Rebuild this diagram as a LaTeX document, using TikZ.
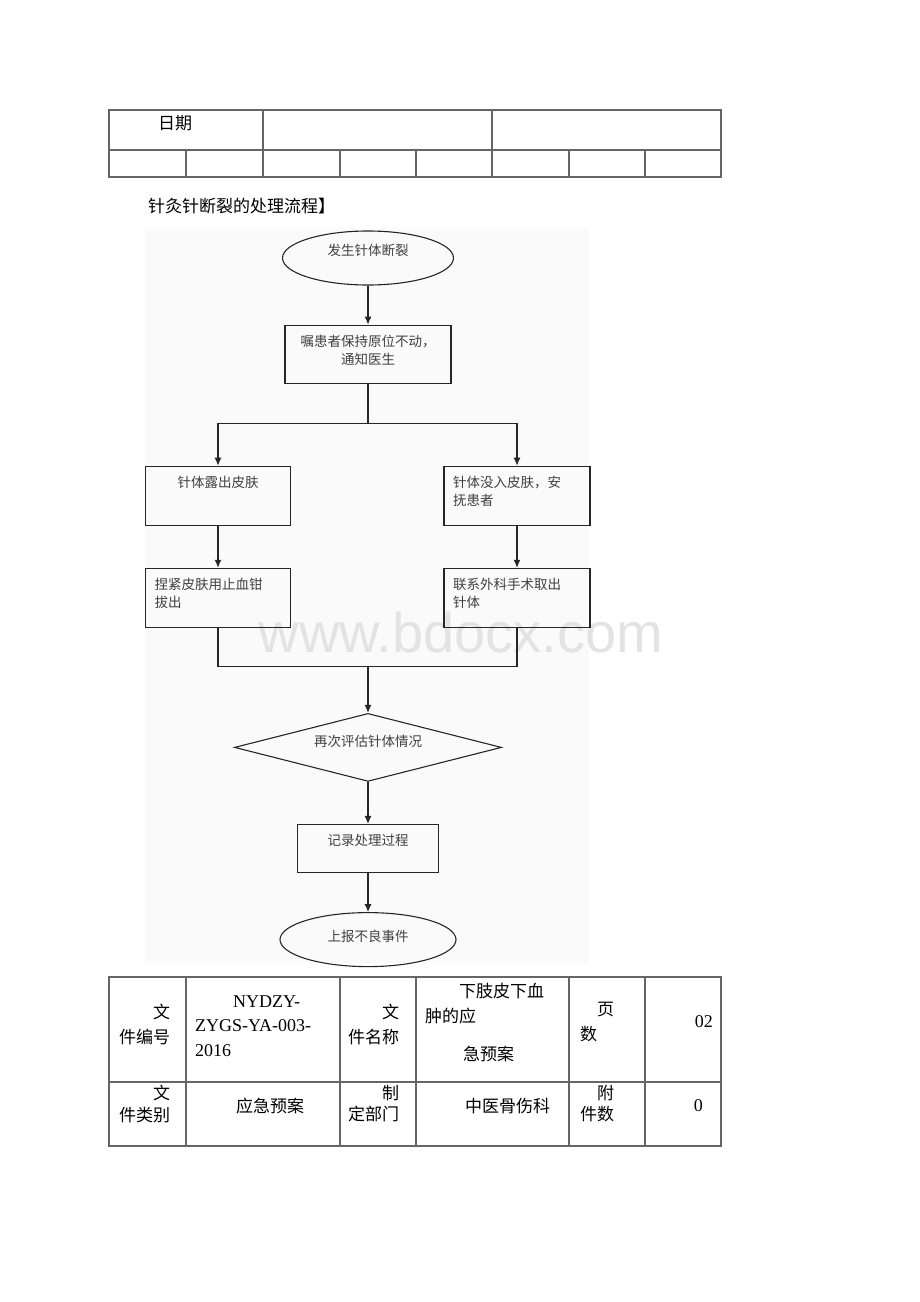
\documentclass[tikz,border=0pt]{standalone}
\usepackage{fontspec}
\setmainfont{Liberation Serif}
\newfontfamily\cjk{Noto Sans CJK SC}
\newfontfamily\markfont{Liberation Sans}
\usetikzlibrary{positioning,shapes.geometric,arrows.meta}
\newcommand\flowfont{\cjk\fontsize{13.5}{18}\selectfont}
\newcommand\tablefont{\cjk\fontsize{17}{25}\selectfont}
\newcommand\latinfont{\rmfamily\fontsize{18}{24.5}\selectfont}
\tikzstyle{block} = [rectangle, draw=black!85, line width=1.1pt, text=black!75, font=\flowfont, inner xsep=9pt, inner ysep=4pt, text width=127pt, text height=17pt, text depth=34pt, align=left]
\tikzstyle{startstop} = [ellipse, draw=black!85, line width=1.1pt, text=black!75, font=\flowfont, inner sep=0pt, minimum width=171pt, minimum height=54pt, text height=10pt, text depth=16pt]
\tikzstyle{decision} = [diamond, draw=black!85, line width=1.1pt, text=black!75, font=\flowfont, aspect=4, inner sep=1pt, minimum width=267pt, minimum height=68pt, text height=10pt, text depth=12pt]
\tikzstyle{link} = [draw=black!85, line width=1.1pt]
\tikzstyle{arrow} = [link, ->, >={Latex[length=8pt,width=7pt]}]
\tikzstyle{cell} = [font=\tablefont, inner sep=0pt, align=left]
\tikzstyle{tablerule} = [draw=black!60, line width=1.2pt]

\begin{document}
\begin{tikzpicture}[x=1pt,y=-1pt]
\useasboundingbox (0,0) rectangle (920,1302);
\fill[black!2] (145,229) rectangle (589,963); % scanned chart
\node (mark) [font=\markfont\fontsize{56}{56}\selectfont, text=black!11, anchor=base] at (461,652) {www.bdocx.com};

% top table
\draw [tablerule] (109,110) rectangle (721,177);
\draw [tablerule] (109,150) -- (721,150);
\foreach \x in {263,492} \draw [tablerule] (\x,110) -- (\x,177);
\foreach \x in {186,340,416,569,645} \draw [tablerule] (\x,150) -- (\x,177);
\node (date) [cell, anchor=west] at (158,123) {日期};
\node (title) [cell, anchor=west] at (148,206) {针灸针断裂的处理流程】};

% flow
\node (start) [startstop] at (368,258) {发生针体断裂};
\node (notify) [block, below=39pt of start, text width=148pt, text depth=33pt, align=center] {嘱患者保持原位不动，\\通知医生};
\coordinate [below=40pt of notify] (split);
\node (exposed) [block, below=82pt of notify, xshift=-150pt, align=center] {针体露出皮肤};
\node (buried) [block, below=82pt of notify, xshift=149pt, text width=128pt] {针体没入皮肤，安\\抚患者};
\node (clamp) [block, below=42pt of exposed] {捏紧皮肤用止血钳\\拔出};
\node (surgery) [block, below=42pt of buried, text width=128pt] {联系外科手术取出\\针体};
\path (start |- clamp.south) ++(0,39) coordinate (merge);
\node (assess) [decision, below=46pt of merge] {再次评估针体情况};
\node (record) [block, below=42pt of assess, text width=123pt, text depth=23pt, align=center] {记录处理过程};
\node (report) [startstop, below=39pt of record, minimum width=176pt, text depth=6pt] {上报不良事件};

\draw [arrow] (start) -- (notify);
\draw [link] (notify) -- (split);
\draw [arrow] (split) -| (exposed);
\draw [arrow] (split) -| (buried);
\draw [arrow] (exposed) -- (clamp);
\draw [arrow] (buried) -- (surgery);
\draw [link] (clamp) |- (merge) -| (surgery);
\draw [arrow] (merge) -- (assess);
\draw [arrow] (assess) -- (record);
\draw [arrow] (record) -- (report);

% bottom table
\draw [tablerule] (109,977) rectangle (721,1146);
\draw [tablerule] (109,1082) -- (721,1082);
\foreach \x in {186,340,416,569,645} \draw [tablerule] (\x,977) -- (\x,1146);
\node (numlabel) [cell, anchor=west] at (119,1024) {\hspace*{2em}文\\件编号};
\node (numvalue) [cell, font=\latinfont, anchor=west] at (195,1026) {\hspace*{38pt}NYDZY-\\ZYGS-YA-003-\\2016};
\node (namelabel) [cell, anchor=west] at (348,1024) {\hspace*{2em}文\\件名称};
\node (namevalue) [cell, anchor=west] at (425,1022.5) {\hspace*{34pt}下肢皮下血\\[0pt]肿的应\\[13pt]\hspace*{38pt}急预案};
\node (pagelabel) [cell, anchor=west] at (580,1022) {\hspace*{1em}页\\数};
\node (pagevalue) [cell, font=\latinfont, anchor=east] at (713,1022) {02};
\node (typelabel) [cell, anchor=west] at (119,1104) {\hspace*{2em}文\\[-4pt]件类别};
\node (typevalue) [cell] at (270,1106) {应急预案};
\node (deptlabel) [cell, anchor=west] at (348,1104) {\hspace*{2em}制\\[-4pt]定部门};
\node (deptvalue) [cell, anchor=west] at (465,1106) {中医骨伤科};
\node (attachlabel) [cell, anchor=west] at (580,1104) {\hspace*{1em}附\\[-4pt]件数};
\node (attachvalue) [cell, font=\latinfont, anchor=east] at (703,1106) {0};
\end{tikzpicture}
\end{document}
